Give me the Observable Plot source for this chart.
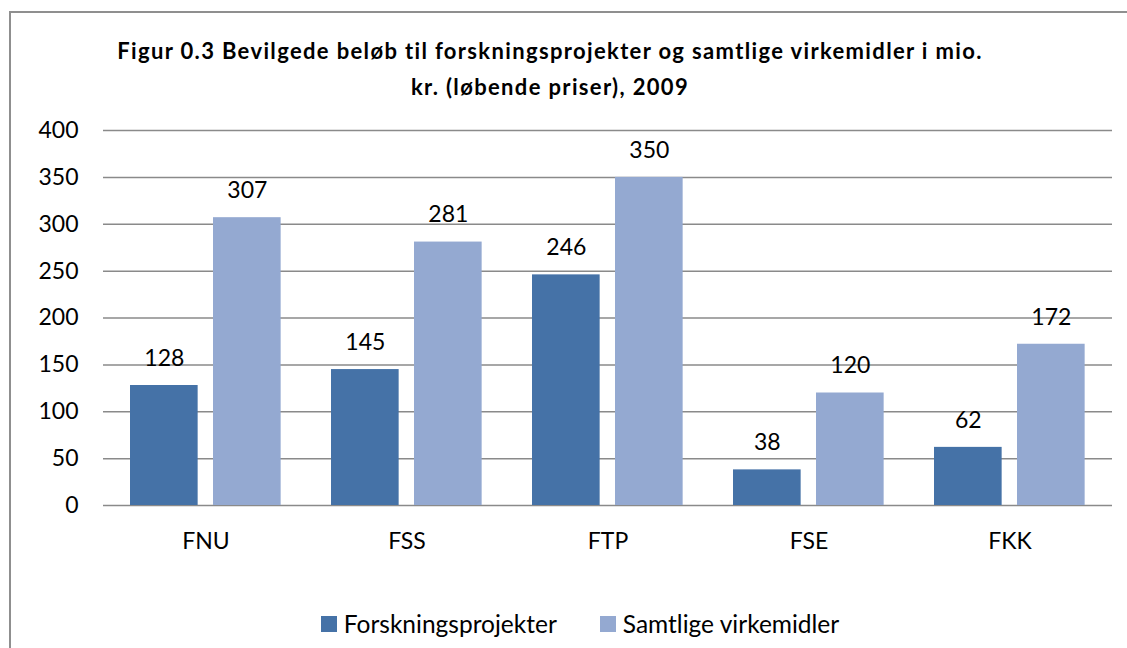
<!DOCTYPE html>
<html><head><meta charset="utf-8">
<script src="https://cdn.jsdelivr.net/npm/d3@7"></script>
<script src="https://cdn.jsdelivr.net/npm/@observablehq/plot@0.6"></script>
<style>
body{margin:0;background:#fff;font-family:Lato,"Open Sans",sans-serif;color:#000;}
#wrap{position:relative;width:1127px;height:648px;overflow:hidden;background:#fff;}
#frame{position:absolute;left:9px;top:11px;width:1140px;height:660px;border:2px solid #8f8f8f;box-sizing:border-box;}
#title{position:absolute;left:0;width:1100px;top:33px;text-align:center;font-weight:bold;font-size:22px;letter-spacing:1.35px;line-height:36px;}
#chart{position:absolute;left:0;top:110px;}
#legend{position:absolute;left:0;width:1160px;top:604px;display:flex;justify-content:center;gap:43px;font-size:24.5px;line-height:40px;}
#legend .item{display:flex;align-items:center;gap:7px;}
#legend .sw{width:16px;height:16px;display:inline-block;}
</style></head>
<body>
<div id="wrap">
  <div id="frame"></div>
  <div id="title">Figur 0.3 Bevilgede beløb til forskningsprojekter og samtlige virkemidler i mio.<br>kr. (løbende priser), 2009</div>
  <div id="chart"></div>
  <div id="legend"></div>
</div>
<script>
const categories = ["FNU", "FSS", "FTP", "FSE", "FKK"];
const series = ["Forskningsprojekter", "Samtlige virkemidler"];
const forskningsprojekter = [128, 145, 246, 38, 62];
const samtligeVirkemidler = [307, 281, 350, 120, 172];
const yTicks = [0, 50, 100, 150, 200, 250, 300, 350, 400];
const colors = ["#4572A7", "#94A9D1"];

const rowsA = categories.map((c, i) => ({cat: c, series: series[0], value: forskningsprojekter[i]}));
const rowsB = categories.map((c, i) => ({cat: c, series: series[1], value: samtligeVirkemidler[i]}));

const W = 1127, mL = 103, mR = 15;
const step = (W - mL - mR) / categories.length;
const bw = step * 0.75;
const barW = 68, gap = 15;

const chart = Plot.plot({
  width: W,
  height: 445,
  marginLeft: mL,
  marginRight: mR,
  marginTop: 20,
  marginBottom: 50,
  style: {fontFamily: "Lato, 'Open Sans', sans-serif", fontSize: "23px", color: "#000", background: "transparent"},
  x: {domain: categories, paddingInner: 0.25, paddingOuter: 0.125, label: null},
  y: {domain: [0, 400], label: null},
  marks: [
    Plot.ruleY(yTicks, {stroke: "#8a8a8a", strokeWidth: 1.5}),
    Plot.barY(rowsA, {x: "cat", y: "value", fill: colors[0], insetRight: bw - barW}),
    Plot.barY(rowsB, {x: "cat", y: "value", fill: colors[1], insetLeft: barW + gap, insetRight: bw - 2 * barW - gap}),
    Plot.text(rowsA, {x: "cat", y: "value", text: d => String(d.value), dx: barW / 2 - bw / 2, dy: -27, fill: "#000"}),
    Plot.text(rowsB, {x: "cat", y: "value", text: d => String(d.value), dx: barW + gap + barW / 2 - bw / 2, dy: -27, fill: "#000"}),
    Plot.axisY({ticks: yTicks, tickSize: 0, tickPadding: 25, label: null}),
    Plot.axisX({tickSize: 0, tickPadding: 27, label: null})
  ]
});
document.getElementById("chart").appendChild(chart);

const legend = document.getElementById("legend");
series.forEach((s, i) => {
  const item = document.createElement("div");
  item.className = "item";
  const sw = document.createElement("span");
  sw.className = "sw";
  sw.style.background = colors[i];
  const t = document.createElement("span");
  t.textContent = s;
  item.appendChild(sw);
  item.appendChild(t);
  legend.appendChild(item);
});
</script>
</body></html>
